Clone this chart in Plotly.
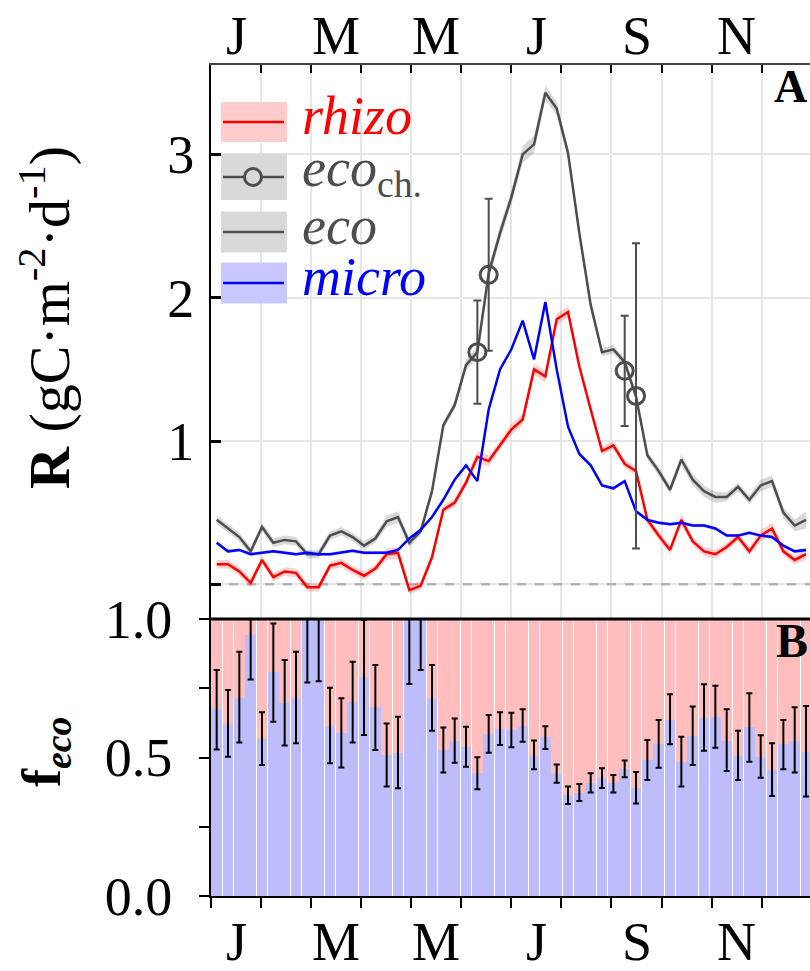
import plotly.graph_objects as go

# ---------------- data (weekly bins, 53 per year) ----------------
week = list(range(53))
month_labels = ["J", "M", "M", "J", "S", "N"]
month_label_idx = [0, 2, 4, 6, 8, 10]

eco = [0.45, 0.39, 0.33, 0.23, 0.40, 0.29, 0.31, 0.30, 0.21, 0.21,
       0.34, 0.37, 0.33, 0.27, 0.32, 0.44, 0.47, 0.29, 0.37, 0.65,
       1.11, 1.25, 1.53, 1.62, 2.17, 2.45, 2.70, 3.00, 3.07, 3.43,
       3.32, 3.01, 2.45, 1.95, 1.62, 1.64, 1.55, 1.31, 0.90, 0.79,
       0.66, 0.87, 0.73, 0.65, 0.61, 0.61, 0.68, 0.59, 0.69, 0.72,
       0.50, 0.41, 0.45]
eco_sd = [0.03, 0.03, 0.03, 0.03, 0.03, 0.03, 0.03, 0.03, 0.03, 0.03,
          0.03, 0.03, 0.03, 0.03, 0.03, 0.04, 0.04, 0.03, 0.03, 0.03,
          0.03, 0.03, 0.04, 0.04, 0.05, 0.05, 0.05, 0.06, 0.06, 0.05,
          0.05, 0.04, 0.04, 0.03, 0.03, 0.03, 0.03, 0.03, 0.03, 0.03,
          0.03, 0.04, 0.04, 0.04, 0.04, 0.03, 0.03, 0.03, 0.04, 0.04,
          0.04, 0.04, 0.06]

rhizo = [0.14, 0.14, 0.09, 0.01, 0.17, 0.05, 0.09, 0.08, -0.02, -0.02,
         0.13, 0.15, 0.10, 0.06, 0.11, 0.21, 0.22, -0.04, -0.01, 0.19,
         0.52, 0.57, 0.71, 0.89, 0.86, 0.97, 1.08, 1.15, 1.50, 1.45,
         1.85, 1.90, 1.52, 1.22, 0.93, 0.97, 0.84, 0.79, 0.45, 0.34,
         0.24, 0.45, 0.30, 0.23, 0.21, 0.26, 0.33, 0.23, 0.34, 0.39,
         0.23, 0.17, 0.21]
rhizo_sd = [0.03, 0.03, 0.03, 0.03, 0.03, 0.03, 0.03, 0.03, 0.03, 0.03,
            0.03, 0.03, 0.03, 0.03, 0.03, 0.04, 0.04, 0.03, 0.03, 0.03,
            0.03, 0.03, 0.03, 0.04, 0.04, 0.03, 0.04, 0.04, 0.04, 0.04,
            0.04, 0.04, 0.03, 0.03, 0.03, 0.03, 0.03, 0.03, 0.03, 0.03,
            0.03, 0.04, 0.03, 0.03, 0.03, 0.03, 0.03, 0.03, 0.04, 0.04,
            0.03, 0.03, 0.04]

micro = [0.29, 0.23, 0.24, 0.21, 0.22, 0.23, 0.22, 0.21, 0.22, 0.21,
         0.21, 0.22, 0.235, 0.22, 0.22, 0.22, 0.24, 0.32, 0.38, 0.47,
         0.59, 0.73, 0.83, 0.72, 1.22, 1.50, 1.64, 1.84, 1.57, 1.97,
         1.50, 1.10, 0.91, 0.83, 0.69, 0.67, 0.72, 0.51, 0.45, 0.43,
         0.42, 0.43, 0.41, 0.41, 0.39, 0.34, 0.34, 0.36, 0.34, 0.33,
         0.27, 0.23, 0.24]
micro_sd = [0.012, 0.012, 0.012, 0.012, 0.012, 0.012, 0.012, 0.012, 0.012, 0.012,
            0.012, 0.012, 0.012, 0.012, 0.012, 0.012, 0.012, 0.012, 0.012, 0.012,
            0.012, 0.012, 0.012, 0.012, 0.015, 0.015, 0.015, 0.015, 0.015, 0.015,
            0.015, 0.012, 0.012, 0.012, 0.012, 0.012, 0.012, 0.012, 0.012, 0.012,
            0.012, 0.012, 0.012, 0.012, 0.012, 0.012, 0.012, 0.012, 0.012, 0.012,
            0.012, 0.012, 0.015]

# chamber measurements (eco_ch.)
ch_week = [23, 24, 36, 37]
ch_val = [1.62, 2.16, 1.49, 1.315]
ch_err = [0.36, 0.53, 0.385, 1.065]

# fraction f_eco (micro share) with error bounds
f_eco = [0.674, 0.621, 0.716, 0.942, 0.566, 0.807, 0.696, 0.716, 1.0, 1.0,
         0.615, 0.590, 0.700, 0.792, 0.681, 0.509, 0.517, 1.0, 1.0, 0.716,
         0.527, 0.561, 0.539, 0.443, 0.585, 0.602, 0.599, 0.615, 0.507, 0.573,
         0.440, 0.365, 0.371, 0.409, 0.425, 0.407, 0.458, 0.389, 0.491, 0.549,
         0.635, 0.485, 0.578, 0.644, 0.647, 0.561, 0.507, 0.609, 0.503, 0.455,
         0.548, 0.561, 0.521]
f_hi = [0.816, 0.744, 0.882, 1.0, 0.663, 0.984, 0.852, 0.882, 1.0, 1.0,
        0.752, 0.714, 0.846, 0.996, 0.834, 0.623, 0.647, 1.0, 1.0, 0.834,
        0.608, 0.641, 0.611, 0.501, 0.653, 0.663, 0.662, 0.674, 0.561, 0.613,
        0.475, 0.395, 0.404, 0.443, 0.461, 0.437, 0.489, 0.448, 0.563, 0.635,
        0.728, 0.575, 0.684, 0.764, 0.759, 0.674, 0.597, 0.732, 0.580, 0.551,
        0.635, 0.681, 0.686]
f_lo = [0.529, 0.503, 0.554, 0.782, 0.473, 0.629, 0.543, 0.551, 0.771, 0.775,
        0.479, 0.464, 0.554, 0.581, 0.527, 0.395, 0.389, 0.765, 0.816, 0.597,
        0.446, 0.481, 0.467, 0.385, 0.517, 0.545, 0.537, 0.557, 0.458, 0.531,
        0.409, 0.332, 0.343, 0.374, 0.390, 0.374, 0.429, 0.334, 0.419, 0.463,
        0.548, 0.395, 0.473, 0.524, 0.535, 0.451, 0.419, 0.485, 0.427, 0.361,
        0.458, 0.446, 0.359]

# ---------------- geometry helpers ----------------
W, H = 810, 971
ML, MR, MT, MB = 211, 0, 65, 75
PW, PH = W - ML - MR, H - MT - MB
XMAX = 52.85
NB = 53


def pxx(x):
    return (x - ML) / PW


def pxy(y):
    return (H - MB - y) / PH


SPLIT = pxy(619)
FONT = "Liberation Serif, Times New Roman, Tinos, Times, serif"
xc = [w + 0.5 for w in week]
month_edges = [k * NB / 12 for k in range(12)]

RED, BLUE, GRAY = "#ff0000", "#0000ff", "#4d4d4d"

fig = go.Figure()


def band(y, sd, color):
    up = [a + b for a, b in zip(y, sd)]
    lo = [a - b for a, b in zip(y, sd)]
    fig.add_trace(go.Scatter(x=xc + xc[::-1], y=up + lo[::-1], fill="toself",
                             fillcolor=color, line=dict(width=0), mode="lines",
                             hoverinfo="skip", showlegend=False,
                             xaxis="x", yaxis="y"))


band(eco, eco_sd, "rgba(0,0,0,0.15)")
band(rhizo, rhizo_sd, "rgba(255,0,0,0.18)")
band(micro, micro_sd, "rgba(0,0,255,0.18)")

fig.add_trace(go.Scatter(x=xc, y=eco, mode="lines", line=dict(color=GRAY, width=2.5),
                         showlegend=False, xaxis="x", yaxis="y"))
fig.add_trace(go.Scatter(x=xc, y=rhizo, mode="lines", line=dict(color=RED, width=2.5),
                         showlegend=False, xaxis="x", yaxis="y"))
fig.add_trace(go.Scatter(x=xc, y=micro, mode="lines", line=dict(color=BLUE, width=2.5),
                         showlegend=False, xaxis="x", yaxis="y"))
fig.add_trace(go.Scatter(x=[xc[w] for w in ch_week], y=ch_val, mode="markers",
                         marker=dict(symbol="circle-open", size=17, color=GRAY,
                                     line=dict(width=3, color=GRAY)),
                         error_y=dict(type="data", array=ch_err, color=GRAY,
                                      thickness=2, width=4),
                         showlegend=False, xaxis="x", yaxis="y"))

# ---------------- panel B bars ----------------
f_rest = [1 - f for f in f_eco]
fig.add_trace(go.Bar(x=xc, y=f_eco, marker=dict(color="#bdbdfc", line=dict(width=0)),
                     showlegend=False, xaxis="x2", yaxis="y2"))
fig.add_trace(go.Bar(x=xc, y=f_rest, marker=dict(color="#ffbdbd", line=dict(width=0)),
                     showlegend=False, xaxis="x2", yaxis="y2"))
fig.add_trace(go.Scatter(x=xc, y=f_eco, mode="markers",
                         marker=dict(size=1, color="rgba(0,0,0,0)"),
                         error_y=dict(type="data", symmetric=False,
                                      array=[h - f for h, f in zip(f_hi, f_eco)],
                                      arrayminus=[f - l for f, l in zip(f_eco, f_lo)],
                                      color="black", thickness=2, width=3),
                         showlegend=False, xaxis="x2", yaxis="y2"))

# ---------------- layout ----------------
tickfont = dict(family=FONT, size=54, color="black")
fig.update_layout(
    width=W, height=H, margin=dict(l=ML, r=MR, t=MT, b=MB),
    paper_bgcolor="white", plot_bgcolor="white",
    barmode="stack", bargap=0.07, showlegend=False,
    font=dict(family=FONT, color="black"),
    xaxis=dict(domain=[0, 1], anchor="y", side="top", range=[0, XMAX],
               tickmode="array", tickvals=month_edges, ticktext=[""] * 12,
               ticks="inside", ticklen=8, tickwidth=2, tickcolor="black",
               showline=True, linecolor="#444444", linewidth=2,
               showgrid=True, gridcolor="#e6e6e6", gridwidth=1.5, zeroline=False),
    yaxis=dict(domain=[SPLIT, 1], anchor="x", range=[-0.242, 3.624],
               tickmode="array", tickvals=[0, 1, 2, 3], ticktext=["", "1", "2", "3"],
               ticks="inside", ticklen=10, tickwidth=2.5, tickcolor="black",
               showline=True, linecolor="black", linewidth=2,
               showgrid=True, gridcolor="#e6e6e6", gridwidth=1.5, zeroline=False,
               tickfont=tickfont, ticklabelstandoff=4),
    xaxis2=dict(domain=[0, 1], anchor="y2", range=[0, XMAX],
                tickmode="array", tickvals=month_edges, ticktext=[""] * 12,
                ticks="outside", ticklen=10, tickwidth=2, tickcolor="black",
                showline=True, linecolor="black", linewidth=2,
                showgrid=False, zeroline=False),
    yaxis2=dict(domain=[0, SPLIT], anchor="x2", range=[0, 1],
                tickmode="array", tickvals=[0, 0.25, 0.5, 0.75, 1],
                ticktext=["0.0", "", "0.5", "", "1.0"],
                ticks="outside", ticklen=10, tickwidth=2, tickcolor="black",
                showline=True, linecolor="black", linewidth=2,
                showgrid=False, zeroline=False, tickfont=tickfont,
                ticklabelstandoff=16),
)

shapes = []
# zero reference line in panel A
shapes.append(dict(type="line", xref="x", yref="y", x0=0, x1=XMAX, y0=0, y1=0,
                   line=dict(color="#b3b3b3", width=2.5, dash="dash"), layer="between"))
# separator between panels
shapes.append(dict(type="line", xref="paper", yref="paper", x0=0, x1=1,
                   y0=SPLIT, y1=SPLIT, line=dict(color="black", width=3), layer="above"))

# legend (drawn manually)
legend_rows = [
    ("<i>rhizo</i>", RED, "#ffcccc", 122, 40, False),
    ("<i>eco</i><sub>ch.</sub>", GRAY, "#d9d9d9", 177, 46, True),
    ("<i>eco</i>", GRAY, "#d9d9d9", 232, 41, False),
    ("<i>micro</i>", BLUE, "#c8c8ff", 283, 41, False),
]
annotations = []
for text, col, fillc, yc, hh, marker in legend_rows:
    shapes.append(dict(type="rect", xref="paper", yref="paper",
                       x0=pxx(221), x1=pxx(287), y0=pxy(yc + hh / 2), y1=pxy(yc - hh / 2),
                       fillcolor=fillc, line=dict(width=0), layer="above"))
    shapes.append(dict(type="line", xref="paper", yref="paper",
                       x0=pxx(223), x1=pxx(284), y0=pxy(yc), y1=pxy(yc),
                       line=dict(color=col, width=2.5), layer="above"))
    if marker:
        r = 8.5
        shapes.append(dict(type="circle", xref="paper", yref="paper",
                           x0=pxx(253 - r), x1=pxx(253 + r), y0=pxy(yc + r), y1=pxy(yc - r),
                           line=dict(color=col, width=3), fillcolor="#d9d9d9", layer="above"))
    annotations.append(dict(text=text, xref="paper", yref="paper", x=pxx(300), y=pxy(yc - 6),
                            xanchor="left", yanchor="middle", showarrow=False,
                            font=dict(family=FONT, size=54, color=col)))

# month labels (top and bottom)
for lab, k in zip(month_labels, month_label_idx):
    xm = (k + 0.5) * NB / 12
    annotations.append(dict(text=lab, xref="x", yref="paper", x=xm, y=pxy(36),
                            xanchor="center", yanchor="middle", showarrow=False,
                            font=dict(family=FONT, size=54, color="black")))
    annotations.append(dict(text=lab, xref="x", yref="paper", x=xm, y=pxy(942),
                            xanchor="center", yanchor="middle", showarrow=False,
                            font=dict(family=FONT, size=54, color="black")))

# panel letters
annotations.append(dict(text="<b>A</b>", xref="paper", yref="paper", x=pxx(790), y=pxy(86),
                        xanchor="center", yanchor="middle", showarrow=False,
                        font=dict(family=FONT, size=46, color="black")))
annotations.append(dict(text="<b>B</b>", xref="paper", yref="paper", x=pxx(792), y=pxy(640),
                        xanchor="center", yanchor="middle", showarrow=False,
                        font=dict(family=FONT, size=48, color="black")))

# axis titles
annotations.append(dict(text="<b>R</b> (gC·m<sup>-2</sup>·d<sup>-1</sup>)", xref="paper", yref="paper",
                        x=pxx(45), y=pxy(318), xanchor="center", yanchor="middle",
                        textangle=-90, showarrow=False,
                        font=dict(family=FONT, size=58, color="black")))
annotations.append(dict(text="<b>f</b><sub><b><i>eco</i></b></sub>", xref="paper", yref="paper",
                        x=pxx(45), y=pxy(752), xanchor="center", yanchor="middle",
                        textangle=-90, showarrow=False,
                        font=dict(family=FONT, size=54, color="black")))

fig.update_layout(shapes=shapes, annotations=annotations)
fig.write_html("out.html")
